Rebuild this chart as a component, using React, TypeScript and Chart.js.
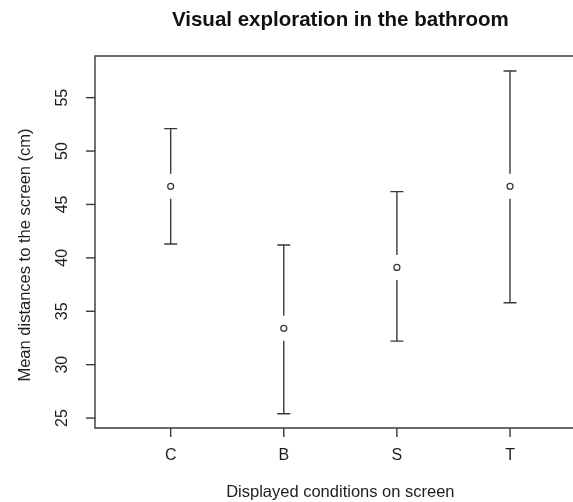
import React, { useEffect, useRef } from "react";
import { Chart, registerables } from "chart.js";

Chart.register(...registerables);

const categories = ["C", "B", "S", "T"];
const means = [46.7, 33.4, 39.1, 46.7];
const lowerCI = [41.3, 25.4, 32.2, 35.8];
const upperCI = [52.1, 41.2, 46.2, 57.5];
const yTickValues = [25, 30, 35, 40, 45, 50, 55];
const chartTitle = "Visual exploration in the bathroom";
const xAxisTitle = "Displayed conditions on screen";
const yAxisTitle = "Mean distances to the screen (cm)";

const LINE = "#3a3a3a";
const TEXT = "#1e1e1e";
const FONT = "'Liberation Sans', Arial, sans-serif";

const rPlot = {
  id: "rPlot",
  beforeDatasetsDraw(chart: any) {
    const ctx = chart.ctx;
    const xs = chart.scales.x;
    const ys = chart.scales.y;
    ctx.save();
    ctx.strokeStyle = LINE;
    ctx.lineWidth = 1.4;
    const gap = 12.5;
    const cap = 6.5;
    categories.forEach((_, i) => {
      const x = xs.getPixelForValue(i + 1);
      const ym = ys.getPixelForValue(means[i]);
      const yl = ys.getPixelForValue(lowerCI[i]);
      const yu = ys.getPixelForValue(upperCI[i]);
      ctx.beginPath();
      ctx.moveTo(x, yu);
      ctx.lineTo(x, ym - gap);
      ctx.moveTo(x, ym + gap);
      ctx.lineTo(x, yl);
      ctx.moveTo(x - cap, yu);
      ctx.lineTo(x + cap, yu);
      ctx.moveTo(x - cap, yl);
      ctx.lineTo(x + cap, yl);
      ctx.stroke();
    });
    ctx.restore();
  },
  afterDraw(chart: any) {
    const ctx = chart.ctx;
    const xs = chart.scales.x;
    const ys = chart.scales.y;
    const a = chart.chartArea;
    ctx.save();
    ctx.strokeStyle = LINE;
    ctx.lineWidth = 1.4;
    // box (right side runs off canvas)
    ctx.beginPath();
    ctx.moveTo(chart.width + 2, a.top);
    ctx.lineTo(a.left, a.top);
    ctx.lineTo(a.left, a.bottom);
    ctx.lineTo(chart.width + 2, a.bottom);
    ctx.stroke();
    // y ticks
    ctx.fillStyle = TEXT;
    ctx.font = `16px ${FONT}`;
    ctx.textAlign = "center";
    ctx.textBaseline = "middle";
    yTickValues.forEach((v) => {
      const y = ys.getPixelForValue(v);
      ctx.beginPath();
      ctx.moveTo(a.left - 9, y);
      ctx.lineTo(a.left, y);
      ctx.stroke();
      ctx.save();
      ctx.translate(a.left - 32, y);
      ctx.rotate(-Math.PI / 2);
      ctx.fillText(String(v), 0, 0);
      ctx.restore();
    });
    // x ticks
    categories.forEach((c, i) => {
      const x = xs.getPixelForValue(i + 1);
      ctx.beginPath();
      ctx.moveTo(x, a.bottom);
      ctx.lineTo(x, a.bottom + 9);
      ctx.stroke();
      ctx.fillText(c, x, a.bottom + 28);
    });
    // axis titles
    const cx = xs.getPixelForValue(2.5);
    ctx.font = `16.5px ${FONT}`;
    ctx.fillText(xAxisTitle, cx, a.bottom + 64);
    ctx.save();
    ctx.translate(25, 255);
    ctx.rotate(-Math.PI / 2);
    ctx.fillText(yAxisTitle, 0, 0);
    ctx.restore();
    // main title
    ctx.font = `bold 20.5px ${FONT}`;
    ctx.fillStyle = "#111";
    ctx.fillText(chartTitle, cx, 20);
    ctx.restore();
  },
};

export default function App() {
  const ref = useRef<HTMLCanvasElement>(null);
  useEffect(() => {
    if (!ref.current) return;
    const chart = new Chart(ref.current, {
      type: "scatter",
      data: {
        datasets: [
          {
            data: means.map((m, i) => ({ x: i + 1, y: m })),
            pointRadius: 3,
            pointBorderWidth: 1.3,
            pointBorderColor: LINE,
            pointBackgroundColor: "#ffffff",
            showLine: false,
          },
        ],
      },
      options: {
        responsive: false,
        animation: false,
        events: [],
        layout: { padding: { left: 95, top: 56, right: 0, bottom: 74 } },
        plugins: { legend: { display: false }, tooltip: { enabled: false }, title: { display: false } },
        scales: {
          x: { type: "linear", min: 0.331, max: 4.51, display: false },
          y: { type: "linear", min: 24.07, max: 58.9, display: false },
        },
      },
      plugins: [rPlot],
    });
    return () => chart.destroy();
  }, []);
  return (
    <div style={{ position: "absolute", left: 0, top: 0, width: 573, height: 502, background: "#fff" }}>
      <canvas ref={ref} width={573} height={502} style={{ display: "block" }} />
    </div>
  );
}
